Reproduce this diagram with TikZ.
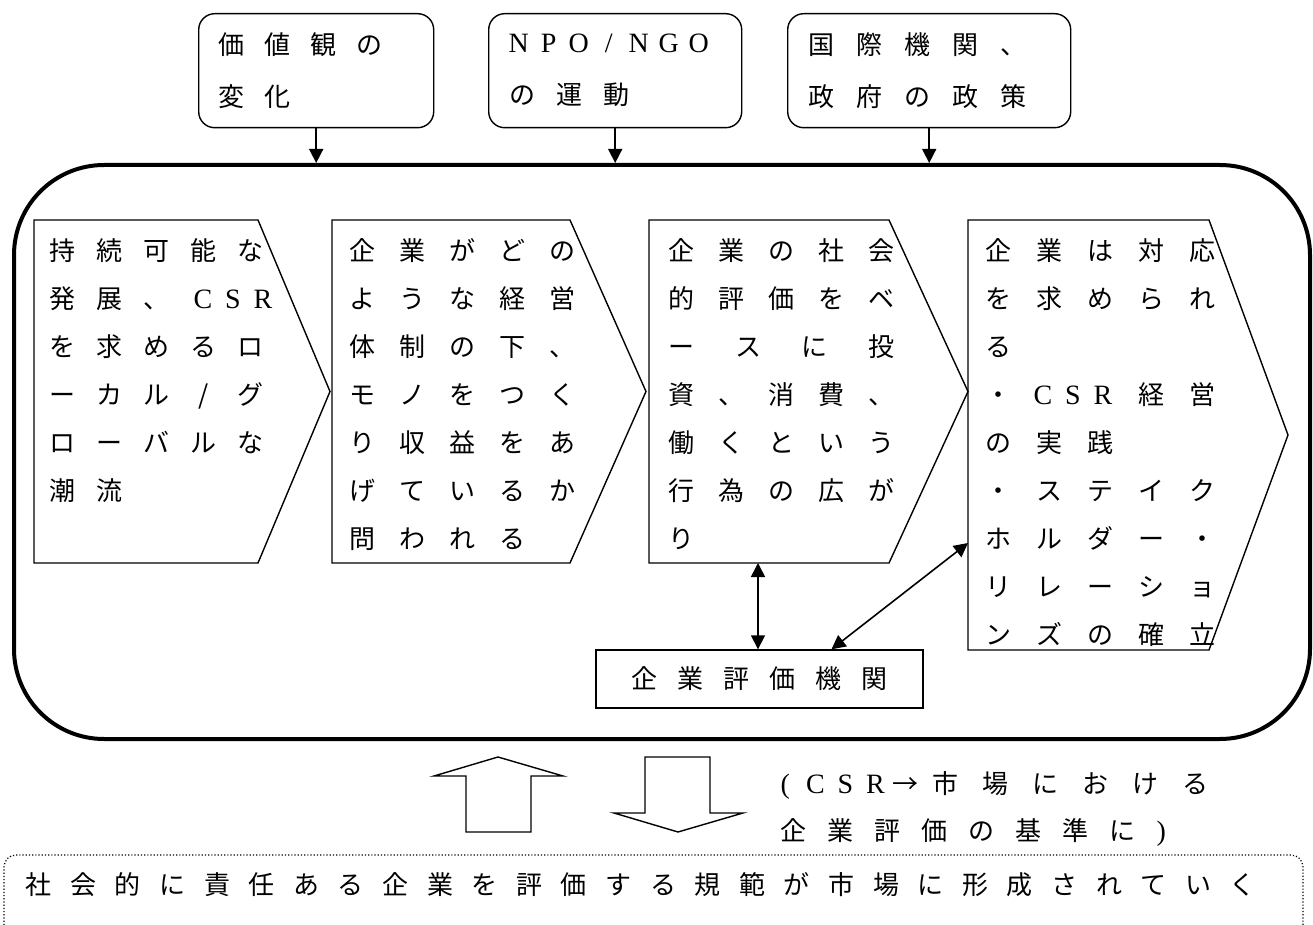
\documentclass[tikz,border=0pt]{standalone}
\usepackage{fontspec}
\setmainfont{Noto Sans CJK JP}
\newfontfamily\latin{Liberation Serif}
\usetikzlibrary{arrows.meta,calc}

\newlength\cp
\setlength\cp{24pt}
\def\gridloop#1{\ifx#1\relax\else\makebox[\cp]{#1}\expandafter\gridloop\fi}
\newcommand\grid[1]{\gridloop#1\relax}
\newcommand\lat[1]{{\latin\fontsize{14}{0}\selectfont\setlength\cp{15pt}\grid{#1}}}

\begin{document}
\begin{tikzpicture}[
      x=0.5pt, y=-0.5pt,
      cadre/.style={
        draw,
        rounded corners=8pt,
        line width=0.7pt,
        anchor=north west,
        inner xsep=5pt,
        align=left,
        minimum height=57pt,
        font=\fontsize{13}{26}\selectfont
      },
      texte/.style={
        anchor=north west,
        inner sep=0pt,
        align=left,
        font=\fontsize{13}{24}\selectfont
      },
      pas/.code={\setlength\cp{#1}},
      chevron/.style={
        draw,
        line width=0.7pt
      },
      arr/.style={
        -{Triangle[length=7pt,width=7pt]},
        line width=0.8pt
      },
      darr/.style={
        {Triangle[length=7pt,width=7pt]}-{Triangle[length=7pt,width=7pt]},
        line width=0.8pt
      },
      creux/.style={
        draw,
        line width=0.7pt
      }
    ]
    \useasboundingbox (0,0) rectangle (1313,925);

    \node[draw, line width=2pt, rounded corners=45pt, minimum width=648pt, minimum height=287pt] (frame) at (662,452) {};

    \node[cadre, pas=23pt, text width=107.5pt] (a1) at (198,13) {\grid{価値観の}\\\grid{変化}};
    \node[cadre, pas=23.5pt, text width=116.5pt] (a2) at (488,13) {\hspace{2.5pt}\lat{NPO/NGO}\\\grid{の運動}};
    \node[cadre, pas=24pt, text width=131.5pt] (a3) at (787,13) {\grid{国際機関、}\\\grid{政府の政策}};

    \foreach \s in {a1,a2,a3}
      \draw[arr] (\s) -- (\s |- frame.north);

    \foreach \xa/\xb/\xc/\yb in {34/258/330/563, 332/570/646/563, 649/889/968/563, 968/1209/1288/650}
      \draw[chevron] (\xa,220) -- (\xb,220) -- (\xc,{(220+\yb)/2}) -- (\xb,\yb) -- (\xa,\yb) -- cycle;

    \node[texte, pas=23.5pt] (t1) at (38.5,238) {\grid{持続可能な}\\
      \grid{発展、}\hspace{4pt}\lat{CSR}\\
      \grid{を求めるロ}\\
      \grid{ーカル/グ}\\
      \grid{ローバルな}\\
      \grid{潮流}};
    \node[texte, pas=25pt] (t2) at (337,238) {\grid{企業がどの}\\
      \grid{ような経営}\\
      \grid{体制の下、}\\
      \grid{モノをつく}\\
      \grid{り収益をあ}\\
      \grid{げているか}\\
      \grid{問われる}};
    \node[texte, pas=25pt] (t3) at (656,238) {\grid{企業の社会}\\
      \grid{的評価をベ}\\
      \makebox[5\cp][s]{\hspace{6pt}ー\hfill ス\hfill に\hfill 投\hspace{6pt}}\\
      \grid{資、消費、}\\
      \grid{働くという}\\
      \grid{行為の広が}\\
      \grid{り}};
    \node[texte, pas=25.5pt] (t4) at (972.5,238) {\grid{企業は対応}\\
      \grid{を求められ}\\
      \grid{る}\\
      \grid{・}\hspace{2pt}\lat{CSR}\hspace{4pt}\grid{経営}\\
      \grid{の実践}\\
      \grid{・ステイク}\\
      \grid{ホルダー・}\\
      \grid{リレーショ}\\
      \grid{ンズの確立}};

    \node[draw, line width=0.7pt, minimum width=163.5pt, minimum height=29pt, font=\fontsize{13}{24}\selectfont, pas=23pt] (eval) at (759.5,679) {\grid{企業評価機関}};

    \coordinate (b3) at (758,563);
    \coordinate (g4) at (968,543);
    \draw[darr] (b3) -- (b3 |- eval.north);
    \draw[darr] (g4) -- ([xshift=36pt]eval.north);

    \draw[creux] (466,832) -- (466,776) -- (434,776) -- (498,757) -- (563,776) -- (531,776) -- (531,832) -- cycle;
    \draw[creux] (645,757) -- (710,757) -- (710,813) -- (743,813) -- (678,832) -- (614,813) -- (645,813) -- cycle;

    \node[texte, font=\fontsize{13}{23.5}\selectfont, pas=23.5pt] (note) at (770,771) {\lat{(CSR}\makebox[15pt]{→}{\setlength\cp{25pt}\grid{市場における}}\\
      \grid{企業評価の基準に}\lat{)}};

    \draw[densely dotted, line width=0.6pt, rounded corners=6pt] (4,925) |- (1303,855) -- (1303,925);
    \node[texte, anchor=west, pas=22.3pt] (norm) at (16,885) {\grid{社会的に責任ある企業を評価する規範が市場に形成されていく}};
\end{tikzpicture}
\end{document}
